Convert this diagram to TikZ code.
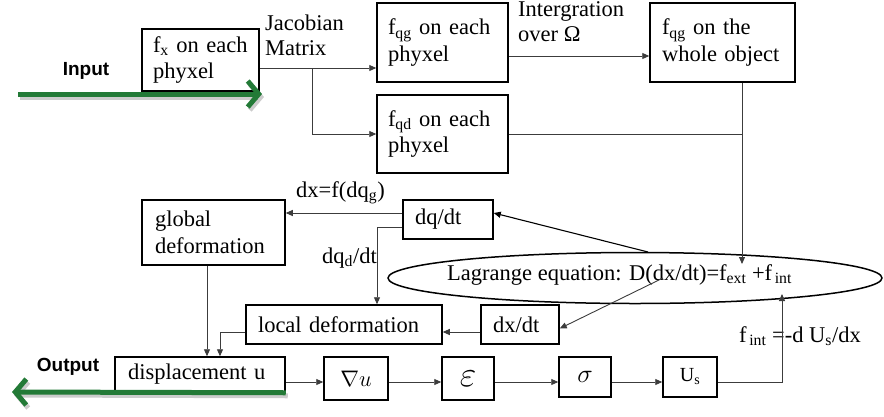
\RequirePackage{fix-cm}
\documentclass[tikz,border=0pt]{standalone}
\usepackage{fontspec}
\setmainfont{Liberation Serif}
\newfontfamily\arialfont{Liberation Sans}
\usetikzlibrary{arrows.meta,shapes.geometric}
\definecolor{linegray}{RGB}{60,60,60}
\definecolor{arrgreen}{RGB}{35,122,55}
\newcommand\dgfont{\fontsize{22.5}{26.5}\selectfont}
\tikzset{
  box/.style={draw=black, line width=1.5pt, inner sep=0pt, align=left, font=\dgfont},
  conn/.style={draw=linegray, line width=0.9pt, -{Triangle[length=7pt,width=6pt]}},
  plain/.style={draw=linegray, line width=0.9pt},
  lbl/.style={inner sep=0pt, font=\dgfont, align=left},
  bigarrow/.style={draw=arrgreen, line width=5pt, -{Straight Barb[length=11pt,width=26pt]}},
  bigshadow/.style={draw=black, opacity=0.2, line width=5pt, -{Straight Barb[length=11pt,width=26pt]}},
  iolbl/.style={inner sep=0pt, font={\arialfont\bfseries\fontsize{19}{22}\selectfont}},
}
\begin{document}
\begin{tikzpicture}[x=1pt,y=-1pt]
\useasboundingbox (0,0) rectangle (884,416);

% boxes
\node[box, minimum width=117, minimum height=62, text width=95] (fx) at (200.5,60) {f\textsubscript{x} on each\\phyxel};
\node[box, minimum width=131, minimum height=79, text width=109] (fqg) at (442.5,42.5) {f\textsubscript{qg} on each\\phyxel};
\node[box, minimum width=131, minimum height=78, text width=109] (fqd) at (442.5,134) {f\textsubscript{qd} on each\\phyxel};
\node[box, minimum width=145, minimum height=79, text width=121] (whole) at (722.5,42.5) {f\textsubscript{qg} on the\\whole object};
\node[box, minimum width=143, minimum height=65, text width=117] (global) at (213.5,232.5) {global\\deformation};
\node[box, minimum width=90, minimum height=39, text width=66] (dqdt) at (448,219.5) {dq/dt};
\node[box, minimum width=196, minimum height=39, text width=172] (local) at (344,324.5) {local deformation};
\node[box, minimum width=78, minimum height=39, text width=54] (dxdt) at (520,324.5) {dx/dt};
\node[box, minimum width=170, minimum height=35, text width=144] (disp) at (200,374.5) {displacement u};
\node[box, minimum width=64, minimum height=43] (nabla) at (356,378.5) {$\nabla u$};
\node[box, minimum width=52, minimum height=43] (eps) at (468,378.5) {\fontsize{36}{36}\selectfont$\varepsilon$};
\node[box, minimum width=52, minimum height=40] (sigma) at (585,377) {\fontsize{26}{26}\selectfont$\sigma$};
\node[box, minimum width=54, minimum height=40] (Us) at (690,377) {\fontsize{20}{22}\selectfont U\textsubscript{s}};

% ellipse
\node[draw=black, line width=1.5pt, ellipse, inner sep=0pt, minimum width=494, minimum height=51] (lag) at (635,278) {};
\node[lbl, anchor=base west] (lagtxt) at (447,280) {Lagrange equation: D(dx/dt)=f\textsubscript{ext} +f\textsubscript{\,int}};

% labels
\node[lbl, anchor=west, font={\fontsize{22.5}{24.5}\selectfont}] (jac) at (265,35.5) {Jacobian\\Matrix};
\node[lbl, anchor=west, font={\fontsize{22.5}{25}\selectfont}] (integ) at (518,22) {Intergration\\over \symbol{"03A9}};
\node[lbl, anchor=base west] (dxf) at (296,197) {dx=f(dq\textsubscript{g})};
\node[lbl, anchor=base west] (dqd) at (322,263) {dq\textsubscript{d}/dt};
\node[lbl, anchor=base west] (fint) at (739,342) {f\textsubscript{\,int} =-d U\textsubscript{s}/dx};

% coordinates
\coordinate (jb) at (312,68);
\coordinate (lagIn) at (742,264);
\coordinate (lagOut) at (782,294);
\coordinate (lagA) at (648,252);
\coordinate (lagB) at (663,278);
\coordinate (inStart) at (18,94);
\coordinate (inEnd) at (262,94);
\coordinate (outEnd) at (12,392);

% connectors top
\draw[conn] ([yshift=-8pt]fx.east) -- ([yshift=-25.5pt]fqg.west);
\draw[conn] (jb) |- (fqd.west);
\draw[conn] ([yshift=-13.5pt]fqg.east) -- ([yshift=-13.5pt]whole.west);
\draw[conn] (lagIn |- whole.south) -- (lagIn);
\draw[plain] (fqd.east) -- (fqd.east -| lagIn);

% middle
\draw[conn] ([yshift=6.5pt]dqdt.west) -- ([yshift=19.5pt]global.east);
\draw[conn] ([yshift=-7.5pt]dqdt.west) -| ([xshift=33pt]local.north);
\draw[conn, line width=1.1pt, draw=black] (lagA) -- ([yshift=6.5pt]dqdt.east);
\draw[conn] (lagB) -- ([yshift=-4pt]dxdt.east);
\draw[conn] ([yshift=-7.5pt]dxdt.west) -- ([yshift=-7.5pt]local.east);
\draw[conn] ([xshift=-6.5pt]global.south) -- ([xshift=-6.5pt]global.south |- disp.north);
\draw[conn] ([yshift=-7.5pt]local.west) -| ([xshift=20pt]disp.north);

% bottom row
\draw[conn] ([yshift=-7.5pt]disp.east) -- ([yshift=-3.5pt]nabla.west);
\draw[conn] ([yshift=-3.5pt]nabla.east) -- ([yshift=-3.5pt]eps.west);
\draw[conn] ([yshift=-3.5pt]eps.east) -- ([yshift=-5pt]sigma.west);
\draw[conn] ([yshift=-5pt]sigma.east) -- ([yshift=-5pt]Us.west);
\draw[conn] ([yshift=-5pt]Us.east) -| (lagOut);

% green input / output
\draw[bigshadow] ([shift={(2pt,-3pt)}]inStart) -- ([shift={(2pt,-3pt)}]inEnd);
\draw[bigarrow] (inStart) -- (inEnd);
\draw[bigshadow] ([shift={(2pt,-3pt)}]disp.south east) -- ([shift={(2pt,-3pt)}]outEnd);
\draw[bigarrow] (disp.south east) -- (outEnd);
\node[iolbl] (inlbl) at (86,71) {Input};
\node[iolbl] (outlbl) at (68,367) {Output};
\end{tikzpicture}
\end{document}
